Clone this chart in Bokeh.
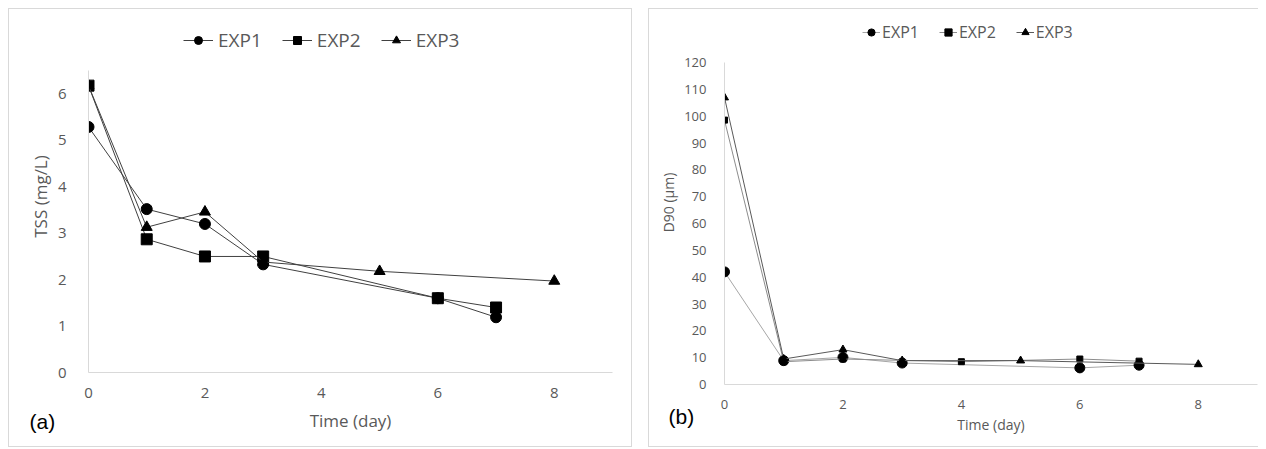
from bokeh.plotting import figure
from bokeh.models import Range1d, Legend, LegendItem, Title, FixedTicker
from bokeh.layouts import row
from bokeh.embed import file_html
from bokeh.resources import INLINE

# ---------------- data: panel (a) TSS ----------------
a_days_exp1 = [0, 1, 2, 3, 6, 7]
a_tss_exp1 = [5.29, 3.52, 3.2, 2.33, 1.6, 1.19]
a_days_exp2 = [0, 1, 2, 3, 6, 7]
a_tss_exp2 = [6.18, 2.87, 2.5, 2.5, 1.6, 1.4]
a_days_exp3 = [0, 1, 2, 3, 5, 8]
a_tss_exp3 = [6.18, 3.13, 3.46, 2.38, 2.18, 1.97]

# ---------------- data: panel (b) D90 ----------------
b_days_exp1 = [0, 1, 2, 3, 6, 7]
b_d90_exp1 = [42, 8.9, 10.1, 8.0, 6.2, 7.2]
b_days_exp2 = [0, 1, 2, 4, 6, 7]
b_d90_exp2 = [98.6, 8.5, 9.5, 8.5, 9.5, 8.7]
b_days_exp3 = [0, 1, 2, 3, 5, 8]
b_d90_exp3 = [107, 9.5, 13.0, 8.9, 8.9, 7.5]

series_names = ["EXP1", "EXP2", "EXP3"]
x_ticks = [0, 2, 4, 6, 8]
a_y_ticks = [0, 1, 2, 3, 4, 5, 6]
b_y_ticks = [0, 10, 20, 30, 40, 50, 60, 70, 80, 90, 100, 110, 120]
a_y_axis_max = 6.5
b_y_axis_max = 120

FONT = "Open Sans"
GRAY = "#595959"
AXIS = "#d9d9d9"


def style(p, tick_size, title_size, x_standoff, y_standoff, x_title_standoff, y_title_standoff,
          border):
    p.xgrid.visible = False
    p.ygrid.visible = False
    p.outline_line_color = None
    for ax in (p.xaxis[0], p.yaxis[0]):
        ax.axis_line_color = AXIS
        ax.major_tick_line_color = None
        ax.minor_tick_line_color = None
        ax.major_label_text_color = GRAY
        ax.major_label_text_font = FONT
        ax.major_label_text_font_size = tick_size
        ax.axis_label_text_color = GRAY
        ax.axis_label_text_font = FONT
        ax.axis_label_text_font_size = title_size
        ax.axis_label_text_font_style = "normal"
    p.xaxis[0].major_label_standoff = x_standoff
    p.yaxis[0].major_label_standoff = y_standoff
    p.xaxis[0].axis_label_standoff = x_title_standoff
    p.yaxis[0].axis_label_standoff = y_title_standoff
    p.styles = border


def panel_tag(text, offset, standoff):
    try:
        return Title(text=text, align="left", vertical_align="top", offset=offset,
                     standoff=standoff, text_font="Liberation Sans", text_font_size="21px",
                     text_font_style="normal", text_color="black")
    except Exception:
        return Title(text=text, align="left", vertical_align="top", offset=offset,
                     standoff=0, text_font="Liberation Sans", text_font_size="21px",
                     text_font_style="normal", text_color="black")


# ---------------- panel (a) ----------------
pa = figure(frame_width=522, frame_height=350, output_backend="svg", toolbar_location=None,
            x_range=Range1d(0, 9), y_range=Range1d(0, a_y_axis_max * 350 / 300),
            min_border_left=79, min_border_right=21, min_border_top=11, min_border_bottom=76,
            x_axis_label="Time (day)", y_axis_label="TSS (mg/L)")
pa.xaxis.ticker = FixedTicker(ticks=x_ticks)
pa.yaxis.ticker = FixedTicker(ticks=a_y_ticks)
pa.yaxis.bounds = (0, a_y_axis_max)
style(pa, "15px", "17px", 9, 16, 8, 3,
      {"border": "1px solid #d9d9d9", "box-sizing": "border-box"})

la1 = pa.line(a_days_exp1, a_tss_exp1, line_color="#404040", line_width=1)
sa1 = pa.scatter(a_days_exp1, a_tss_exp1, marker="circle", size=11, color="black")
la2 = pa.line(a_days_exp2, a_tss_exp2, line_color="#404040", line_width=1)
sa2 = pa.scatter(a_days_exp2, a_tss_exp2, marker="square", size=11, color="black")
la3 = pa.line(a_days_exp3, a_tss_exp3, line_color="#404040", line_width=1)
sa3 = pa.scatter(a_days_exp3, a_tss_exp3, marker="triangle", size=11, color="black")

lega = Legend(items=[LegendItem(label=series_names[0], renderers=[la1, sa1]),
                     LegendItem(label=series_names[1], renderers=[la2, sa2]),
                     LegendItem(label=series_names[2], renderers=[la3, sa3])],
              orientation="horizontal", location=(95, 319),
              label_text_font=FONT, label_text_font_size="19px", label_text_color=GRAY,
              glyph_width=30, spacing=20, label_standoff=5, padding=0, margin=0,
              border_line_color=None, background_fill_alpha=0)
pa.add_layout(lega, "center")
pa.add_layout(panel_tag("(a)", -59, -50), "below")

# ---------------- panel (b) ----------------
pb = figure(frame_width=532, frame_height=362, output_backend="svg", toolbar_location=None,
            x_range=Range1d(0, 9), y_range=Range1d(0, b_y_axis_max * 362 / 320),
            min_border_left=75, min_border_right=2, min_border_top=11, min_border_bottom=64,
            x_axis_label="Time (day)", y_axis_label="D90 (μm)")
pb.xaxis.ticker = FixedTicker(ticks=x_ticks)
pb.yaxis.ticker = FixedTicker(ticks=b_y_ticks)
pb.yaxis.bounds = (0, b_y_axis_max)
style(pb, "13px", "14px", 9, 12, 3, 3,
      {"border-left": "1px solid #d9d9d9", "border-top": "1px solid #d9d9d9",
       "border-bottom": "1px solid #d9d9d9", "box-sizing": "border-box"})

lb1 = pb.line(b_days_exp1, b_d90_exp1, line_color="#a6a6a6", line_width=1)
sb1 = pb.scatter(b_days_exp1, b_d90_exp1, marker="circle", size=10, color="black")
lb2 = pb.line(b_days_exp2, b_d90_exp2, line_color="#8c8c8c", line_width=1)
sb2 = pb.scatter(b_days_exp2, b_d90_exp2, marker="square", size=6, color="black")
lb3 = pb.line(b_days_exp3, b_d90_exp3, line_color="#595959", line_width=1)
sb3 = pb.scatter(b_days_exp3, b_d90_exp3, marker="triangle", size=8, color="black")

legb = Legend(items=[LegendItem(label=series_names[0], renderers=[lb1, sb1]),
                     LegendItem(label=series_names[1], renderers=[lb2, sb2]),
                     LegendItem(label=series_names[2], renderers=[lb3, sb3])],
              orientation="horizontal", location=(138, 341),
              label_text_font=FONT, label_text_font_size="16px", label_text_color=GRAY,
              glyph_width=18, spacing=20, label_standoff=2, padding=0, margin=0,
              border_line_color=None, background_fill_alpha=0)
pb.add_layout(legb, "center")
pb.add_layout(panel_tag("(b)", -56, -64), "below")

layout = row(pa, pb, spacing=16, margin=(8, 8, 0, 8))
open("out.html", "w").write(file_html(layout, INLINE))
